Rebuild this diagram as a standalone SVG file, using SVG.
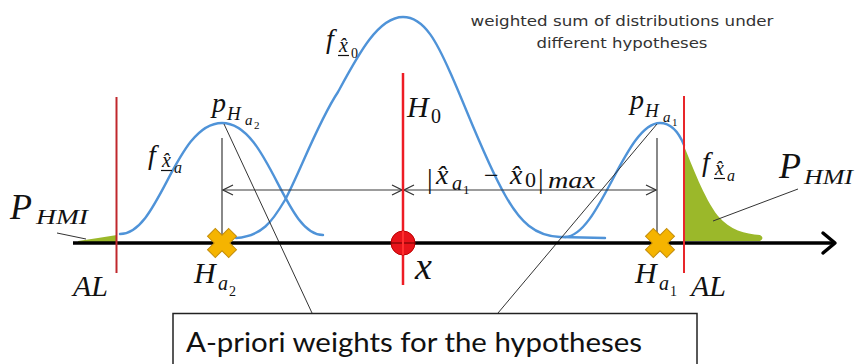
<svg xmlns="http://www.w3.org/2000/svg" width="856" height="364" viewBox="0 0 856 364">
<style>
.mi{font-family:"Liberation Serif","DejaVu Serif",serif;font-style:italic;fill:#111}
.mn{font-family:"Liberation Serif","DejaVu Serif",serif;font-style:normal;fill:#111}
.curve{fill:none;stroke:#4f93d8;stroke-width:2.4;stroke-linecap:round}
.green{fill:#9bb82a}
.gray{stroke:#3a3a3a;stroke-width:1.2;fill:none}
.lead{stroke:#333;stroke-width:1;fill:none}
.ul{stroke:#111;stroke-width:1.2}
.note{font-family:"DejaVu Sans","Liberation Sans",sans-serif;fill:#333}
</style>
<defs>
<marker id="dim" viewBox="0 0 12 12" refX="11" refY="6" markerWidth="12" markerHeight="12" markerUnits="userSpaceOnUse" orient="auto-start-reverse">
<path d="M1,1 L11,6 L1,11" fill="none" stroke="#333" stroke-width="1.2"/>
</marker>
<polygon id="cross" points="-5.5,-15 5.5,-15 5.5,-5.5 15,-5.5 15,5.5 5.5,5.5 5.5,15 -5.5,15 -5.5,5.5 -15,5.5 -15,-5.5 -5.5,-5.5" fill="#f5b400" stroke="#c48d0a" stroke-width="1" transform="rotate(45)"/>
</defs>
<rect width="856" height="364" fill="#fff"/>

<g id="note">
<text class="note" x="622" y="26" font-size="14" text-anchor="middle" textLength="303" lengthAdjust="spacingAndGlyphs">weighted sum of distributions under</text>
<text class="note" x="622" y="48" font-size="14" text-anchor="middle" textLength="171" lengthAdjust="spacingAndGlyphs">different hypotheses</text>
</g>

<g id="distributions">
<path class="green" d="M684,146 C692,165 704,198 718,216 C730,230 745,234 760,235 Q765,238 760,241 L684,241 Z"/>
<path class="green" d="M78,241 L98,238 L117,235 L117,242 L78,242 Z"/>
<path class="curve" d="M120,234 C160,234 175,123 222,123 C269,123 284,235 323,235"/>
<path class="curve" d="M236,238 C262,236 272,222 285,200 C300,172 318,122 338,92 C358,55 378,17 403,17 C425,17 438,45 450,72 C465,105 485,160 505,195 C520,222 535,236 560,237 L605,238"/>
<path class="curve" d="M565,237 C600,236 625,123 660,123 C672,123 679,133 684,145"/>
</g>

<g id="connectors">
<line class="gray" x1="222" y1="138" x2="222" y2="243"/>
<line class="gray" x1="657" y1="138" x2="657" y2="243"/>
<line class="gray" x1="223" y1="190" x2="402" y2="190" marker-start="url(#dim)" marker-end="url(#dim)"/>
<line class="gray" x1="404" y1="190" x2="656" y2="190" marker-start="url(#dim)" marker-end="url(#dim)"/>
<line class="lead" x1="224" y1="124" x2="312" y2="313"/>
<line class="lead" x1="498" y1="313" x2="657" y2="124"/>
<line class="lead" x1="57" y1="233" x2="86" y2="239"/>
<line class="lead" x1="798" y1="189" x2="713" y2="221"/>
</g>

<g id="axis">
<line x1="73" y1="243" x2="834" y2="243" stroke="#000" stroke-width="3.5"/>
<path d="M823,233 L835,243 L823,253" fill="none" stroke="#000" stroke-width="3.5" stroke-linecap="round" stroke-linejoin="round"/>
</g>

<g id="AL-left">
<line x1="116.5" y1="97" x2="116.5" y2="273" stroke="#c0282d" stroke-width="2"/>
<text class="mi" x="73" y="296" font-size="30">AL</text>
</g>
<g id="AL-right">
<line x1="684" y1="96" x2="684" y2="273" stroke="#e8262a" stroke-width="2"/>
<text class="mi" x="691" y="296" font-size="30">AL</text>
</g>

<g id="H0">
<line x1="403" y1="73" x2="403" y2="285" stroke="#ee1c24" stroke-width="2.5"/>
<circle cx="403" cy="243" r="12" fill="#e8141b" stroke="#b00" stroke-width="1"/>
<line x1="391" y1="243" x2="415" y2="243" stroke="#600" stroke-width="1"/>
<line x1="403" y1="231" x2="403" y2="255" stroke="#ff3030" stroke-width="2"/>
<text class="mi" x="407" y="117" font-size="30">H</text>
<text class="mn" x="431" y="123" font-size="20">0</text>
<text class="mi" x="415" y="279" font-size="38">x</text>
</g>

<g id="Ha2">
<use href="#cross" x="222" y="243"/>
<text class="mi" x="194" y="283" font-size="30">H</text>
<text class="mi" x="218" y="290" font-size="20">a</text>
<text class="mn" x="229" y="296" font-size="14">2</text>
<text class="mi" x="212" y="112" font-size="28">p</text>
<text class="mi" x="227" y="120" font-size="19">H</text>
<text class="mi" x="245" y="125" font-size="15">a</text>
<text class="mn" x="254" y="129" font-size="11">2</text>
<text class="mi" x="148" y="164" font-size="28">f</text>
<text class="mi" x="162" y="167" font-size="20">x̂</text>
<line class="ul" x1="161" y1="170.5" x2="172" y2="170.5"/>
<text class="mi" x="174" y="173" font-size="16">a</text>
</g>

<g id="Ha1">
<use href="#cross" x="660" y="243"/>
<text class="mi" x="635" y="283" font-size="30">H</text>
<text class="mi" x="659" y="290" font-size="20">a</text>
<text class="mn" x="670" y="296" font-size="14">1</text>
<text class="mi" x="630" y="109" font-size="28">p</text>
<text class="mi" x="645" y="117" font-size="19">H</text>
<text class="mi" x="663" y="122" font-size="15">a</text>
<text class="mn" x="672" y="126" font-size="11">1</text>
<text class="mi" x="702" y="171" font-size="28">f</text>
<text class="mi" x="715" y="175" font-size="20">x̂</text>
<line class="ul" x1="714" y1="178.5" x2="725" y2="178.5"/>
<text class="mi" x="727" y="181" font-size="16">a</text>
</g>

<g id="f-x0">
<text class="mi" x="326" y="48" font-size="28">f</text>
<text class="mi" x="339" y="52" font-size="20">x̂</text>
<line class="ul" x1="338" y1="55.5" x2="349" y2="55.5"/>
<text class="mn" x="351" y="58" font-size="14">0</text>
</g>

<g id="max-diff">
<text class="mn" x="427" y="188" font-size="28">|</text>
<text class="mi" x="436" y="184" font-size="28">x̂</text>
<text class="mi" x="452" y="190" font-size="20">a</text>
<text class="mn" x="463" y="194" font-size="13">1</text>
<text class="mn" x="484" y="184" font-size="26">−</text>
<text class="mi" x="510" y="184" font-size="28">x̂</text>
<text class="mn" x="525" y="187" font-size="22">0</text>
<text class="mn" x="538" y="188" font-size="28">|</text>
<text class="mi" x="548" y="188" font-size="24" textLength="47" lengthAdjust="spacingAndGlyphs">max</text>
</g>

<g id="PHMI-left">
<text class="mi" x="10" y="219" font-size="36">P</text>
<text class="mi" x="36" y="224" font-size="22" textLength="52" lengthAdjust="spacingAndGlyphs">HMI</text>
</g>
<g id="PHMI-right">
<text class="mi" x="779" y="178" font-size="36">P</text>
<text class="mi" x="804" y="184" font-size="22" textLength="49" lengthAdjust="spacingAndGlyphs">HMI</text>
</g>

<g id="weights-box">
<rect x="173" y="313.5" width="524" height="60" fill="#fff" stroke="#222" stroke-width="1.5"/>
<text x="186" y="352" font-family="Lato,'Open Sans',sans-serif" font-size="27" fill="#111" textLength="456" lengthAdjust="spacingAndGlyphs">A-priori weights for the hypotheses</text>
</g>
</svg>
